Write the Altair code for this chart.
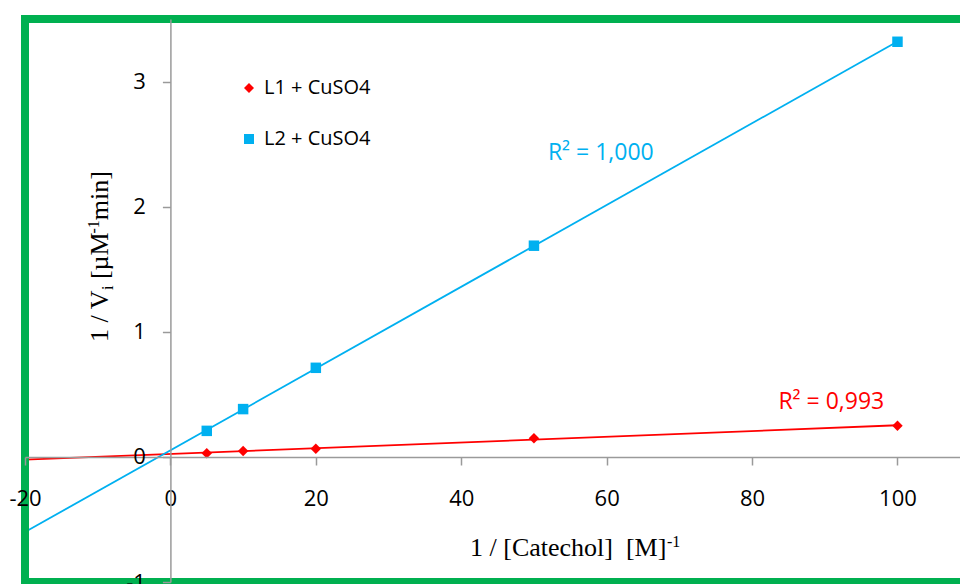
import altair as alt
import pandas as pd

# ---- data ----
x_vals = [5, 10, 20, 50, 100]
l1_vals = [0.030, 0.048, 0.066, 0.149, 0.248]
l2_vals = [0.208, 0.382, 0.712, 1.688, 3.318]
series_names = ["L1 + CuSO4", "L2 + CuSO4"]
series_colors = ["#ff0000", "#00b0f0"]
series_shapes = ["diamond", "square"]
x_ticks = [-20, 0, 20, 40, 60, 80, 100, 120]
y_ticks = [-1, 0, 1, 2, 3]
r2_texts = ["R² = 0,993", "R² = 1,000"]
r2_x = [90.9, 59.2]
r2_y = [0.44, 2.43]

PAD_L, PAD_T = 25, 19
W, H = 935, 563

df = pd.DataFrame({
    "x": x_vals * 2,
    "y": l1_vals + l2_vals,
    "series": [series_names[0]] * len(x_vals) + [series_names[1]] * len(x_vals),
})
r2_df = pd.DataFrame({"x": r2_x, "y": r2_y, "t": r2_texts, "series": series_names})
one = pd.DataFrame({"a": [0]})

GRAY = "#9a9a9a"
LBL = "datum.value < 0 ? '-' + abs(datum.value) : '' + datum.value"
xscale = alt.Scale(domain=[-20, 108.6], nice=False, zero=False)
yscale = alt.Scale(domain=[-1, 3.5], nice=False, zero=False)
cscale = alt.Scale(domain=series_names, range=series_colors)
sscale = alt.Scale(domain=series_names, range=series_shapes)

xaxis = alt.Axis(values=x_ticks, orient="bottom", offset=-125, title=None, grid=False,
                 labelExpr=LBL,
                 labelFont="Open Sans", labelFontSize=22, labelColor="#000000",
                 domainColor=GRAY, domainWidth=1.5, tickColor=GRAY, tickWidth=1.5,
                 tickSize=8, labelPadding=23, labelFlush=False, labelOverlap=False,
                 zindex=1)
yaxis = alt.Axis(values=y_ticks, orient="left", offset=-145.4, title=None, grid=False,
                 labelExpr=LBL,
                 labelFont="Open Sans", labelFontSize=22, labelColor="#000000",
                 domainColor=GRAY, domainWidth=1.5, tickColor=GRAY, tickWidth=1.5,
                 tickSize=8, labelPadding=17, labelFlush=False, labelOverlap=False,
                 zindex=1)

base = alt.Chart(df)

line_layers = []
r2_layers = []
for i, name in enumerate(series_names):
    line_layers.append(
        base.transform_filter(alt.datum.series == name).transform_regression(
            "x", "y", extent=[-20, 100]
        ).mark_line(strokeWidth=1.8, color=series_colors[i]).encode(
            x=alt.X("x:Q", scale=xscale, axis=xaxis),
            y=alt.Y("y:Q", scale=yscale, axis=yaxis),
        )
    )
    r2_layers.append(
        alt.Chart(r2_df).transform_filter(alt.datum.series == name).mark_text(
            font="Open Sans", fontSize=23, align="center", baseline="middle",
            color=series_colors[i]
        ).encode(
            x=alt.X("x:Q", scale=xscale),
            y=alt.Y("y:Q", scale=yscale),
            text="t:N",
        )
    )

legend = alt.Legend(
    title=None, orient="none", legendX=214, legendY=59, padding=0,
    labelFont="Open Sans", labelFontSize=20, labelColor="#000000",
    rowPadding=31, symbolSize=100, labelOffset=5, symbolStrokeWidth=0,
)

points = base.mark_point(filled=True, opacity=1, size=110).encode(
    x=alt.X("x:Q", scale=xscale),
    y=alt.Y("y:Q", scale=yscale),
    color=alt.Color("series:N", scale=cscale, legend=legend),
    shape=alt.Shape("series:N", scale=sscale, legend=legend),
)

frame = alt.Chart(one).mark_rect(fillOpacity=0, stroke="#00b050", strokeWidth=8).encode(
    x=alt.value(0), x2=alt.value(W + 200), y=alt.value(0), y2=alt.value(H)
)

def txt(s, px, py, size=26, angle=0):
    return alt.Chart(one).mark_text(
        text=s, font="Liberation Serif", fontSize=size, align="left",
        baseline="alphabetic", angle=angle, color="#000000"
    ).encode(x=alt.value(px - PAD_L), y=alt.value(py - PAD_T))

SUB = 16
xt1 = txt("1 / [Catechol]\u00a0\u00a0[M]", 470, 556)
xt2 = txt("-1", 667, 547, SUB)

yt = [
    txt("1 / V", 108, 342, 26, 270),
    txt("i", 113, 290, SUB, 270),
    txt("[µM", 108, 279.1, 26, 270),
    txt("-1", 99, 233.5, SUB, 270),
    txt("min]", 108, 220.2, 26, 270),
]

chart = alt.layer(*line_layers, points, frame, *r2_layers, xt1, xt2, *yt).properties(
    width=W, height=H,
    autosize=alt.AutoSizeParams(type="none"),
    padding={"left": PAD_L, "top": PAD_T, "right": 0, "bottom": 2},
).configure_view(strokeWidth=0)

chart.save("out.html", embed_options={"renderer": "svg", "actions": False})
